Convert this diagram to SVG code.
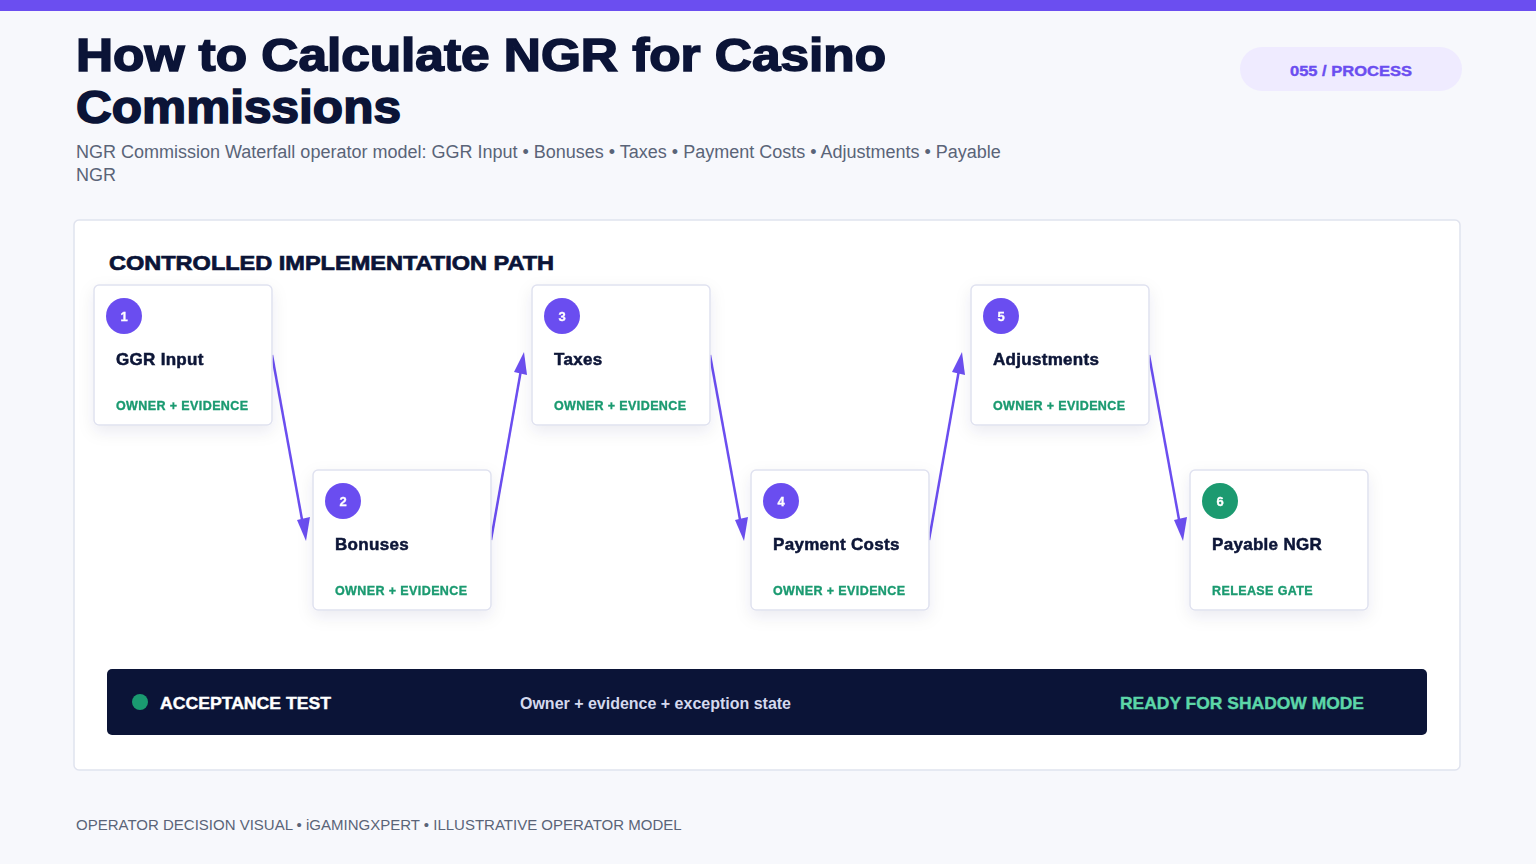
<svg xmlns="http://www.w3.org/2000/svg" width="1536" height="864" viewBox="0 0 1536 864">
<defs>
<style>
.title{font-family:"Liberation Sans",Arial,sans-serif;font-weight:700;font-size:46px;fill:#0B1437;stroke:#0B1437;stroke-width:1.6px}
.sub{font-family:"Liberation Sans",Arial,sans-serif;font-size:18px;fill:#5A6478}
.pill{font-family:"Liberation Sans",Arial,sans-serif;font-weight:700;font-size:15px;fill:#6B4EF0;stroke:#6B4EF0;stroke-width:0.4px}
.sect{font-family:"Liberation Sans",Arial,sans-serif;font-weight:700;font-size:21px;fill:#0B1437;stroke:#0B1437;stroke-width:0.7px}
.card{fill:#FFFFFF;stroke:#E0E2F0;stroke-width:1.5}
.num{font-family:"Liberation Sans",Arial,sans-serif;font-weight:700;font-size:13px;fill:#FFFFFF;stroke:#FFFFFF;stroke-width:0.3px}
.ntitle{font-family:"Liberation Sans",Arial,sans-serif;font-weight:700;font-size:17px;fill:#0B1437;stroke:#0B1437;stroke-width:0.5px;letter-spacing:0.3px}
.tag{font-family:"Liberation Sans",Arial,sans-serif;font-weight:700;font-size:12.5px;fill:#1A9A70;stroke:#1A9A70;stroke-width:0.35px;letter-spacing:0.4px}
.conn{stroke:#6B4EF0;stroke-width:2.5;fill:none}
.bar1{font-family:"Liberation Sans",Arial,sans-serif;font-weight:700;font-size:17px;fill:#FFFFFF;stroke:#FFFFFF;stroke-width:0.4px}
.bar2{font-family:"Liberation Sans",Arial,sans-serif;font-weight:700;font-size:16px;fill:#D4D9EE}
.bar3{font-family:"Liberation Sans",Arial,sans-serif;font-weight:700;font-size:17px;fill:#5CD6A8;stroke:#5CD6A8;stroke-width:0.4px}
.foot{font-family:"Liberation Sans",Arial,sans-serif;font-size:15px;fill:#5A6478}
</style>
<filter id="sh" x="-20%" y="-20%" width="140%" height="150%">
<feDropShadow dx="0" dy="6" stdDeviation="8" flood-color="#1B2150" flood-opacity="0.08"/>
</filter>
</defs>
<rect width="1536" height="864" fill="#F7F8FC"/>
<rect width="1536" height="11" fill="#6B4EF0"/>
<g id="header">
<text class="title" x="76" y="71" textLength="810" lengthAdjust="spacingAndGlyphs">How to Calculate NGR for Casino</text>
<text class="title" x="76" y="123" textLength="325" lengthAdjust="spacingAndGlyphs">Commissions</text>
<text class="sub" x="76" y="158">NGR Commission Waterfall operator model: GGR Input • Bonuses • Taxes • Payment Costs • Adjustments • Payable</text>
<text class="sub" x="76" y="181">NGR</text>
<rect x="1240" y="47" width="222" height="44" rx="22" fill="#EFEBFF"/>
<text class="pill" x="1290" y="76" textLength="122" lengthAdjust="spacingAndGlyphs">055 / PROCESS</text>
</g>
<rect x="74" y="220" width="1386" height="550" rx="5" fill="#FFFFFF" stroke="#E0E3EE" stroke-width="1.5"/>
<text class="sect" x="109" y="270" textLength="445" lengthAdjust="spacingAndGlyphs">CONTROLLED IMPLEMENTATION PATH</text>
<g id="connectors">
<line class="conn" x1="272" y1="355" x2="303" y2="525"/>
<path d="M297,520 L306,541 L310,517 Z" fill="#6B4EF0"/>
<line class="conn" x1="491" y1="540" x2="521" y2="370"/>
<path d="M514,372 L524,352 L527,375 Z" fill="#6B4EF0"/>
<line class="conn" x1="710" y1="355" x2="741" y2="525"/>
<path d="M735,520 L744,541 L748,517 Z" fill="#6B4EF0"/>
<line class="conn" x1="929" y1="540" x2="959" y2="370"/>
<path d="M952,372 L962,352 L965,375 Z" fill="#6B4EF0"/>
<line class="conn" x1="1149" y1="355" x2="1180" y2="525"/>
<path d="M1174,520 L1183,541 L1187,517 Z" fill="#6B4EF0"/>
</g>
<g id="node1" filter="url(#sh)">
<rect class="card" x="94" y="285" width="178" height="140" rx="5"/>
<circle cx="124" cy="316" r="18" fill="#6B4EF0"/>
<text class="num" x="124" y="321" text-anchor="middle">1</text>
<text class="ntitle" x="116" y="365">GGR Input</text>
<text class="tag" x="116" y="410">OWNER + EVIDENCE</text>
</g>
<g id="node2" filter="url(#sh)">
<rect class="card" x="313" y="470" width="178" height="140" rx="5"/>
<circle cx="343" cy="501" r="18" fill="#6B4EF0"/>
<text class="num" x="343" y="506" text-anchor="middle">2</text>
<text class="ntitle" x="335" y="550">Bonuses</text>
<text class="tag" x="335" y="595">OWNER + EVIDENCE</text>
</g>
<g id="node3" filter="url(#sh)">
<rect class="card" x="532" y="285" width="178" height="140" rx="5"/>
<circle cx="562" cy="316" r="18" fill="#6B4EF0"/>
<text class="num" x="562" y="321" text-anchor="middle">3</text>
<text class="ntitle" x="554" y="365">Taxes</text>
<text class="tag" x="554" y="410">OWNER + EVIDENCE</text>
</g>
<g id="node4" filter="url(#sh)">
<rect class="card" x="751" y="470" width="178" height="140" rx="5"/>
<circle cx="781" cy="501" r="18" fill="#6B4EF0"/>
<text class="num" x="781" y="506" text-anchor="middle">4</text>
<text class="ntitle" x="773" y="550">Payment Costs</text>
<text class="tag" x="773" y="595">OWNER + EVIDENCE</text>
</g>
<g id="node5" filter="url(#sh)">
<rect class="card" x="971" y="285" width="178" height="140" rx="5"/>
<circle cx="1001" cy="316" r="18" fill="#6B4EF0"/>
<text class="num" x="1001" y="321" text-anchor="middle">5</text>
<text class="ntitle" x="993" y="365">Adjustments</text>
<text class="tag" x="993" y="410">OWNER + EVIDENCE</text>
</g>
<g id="node6" filter="url(#sh)">
<rect class="card" x="1190" y="470" width="178" height="140" rx="5"/>
<circle cx="1220" cy="501" r="18" fill="#1A9A70"/>
<text class="num" x="1220" y="506" text-anchor="middle">6</text>
<text class="ntitle" x="1212" y="550">Payable NGR</text>
<text class="tag" x="1212" y="595">RELEASE GATE</text>
</g>
<g id="acceptance">
<rect x="107" y="669" width="1320" height="66" rx="5" fill="#0B1437"/>
<circle cx="140" cy="702" r="8" fill="#1A9A70"/>
<text class="bar1" x="160" y="709" textLength="171" lengthAdjust="spacingAndGlyphs">ACCEPTANCE TEST</text>
<text class="bar2" x="520" y="709" textLength="271" lengthAdjust="spacingAndGlyphs">Owner + evidence + exception state</text>
<text class="bar3" x="1120" y="709" textLength="244" lengthAdjust="spacingAndGlyphs">READY FOR SHADOW MODE</text>
</g>
<text class="foot" x="76" y="830">OPERATOR DECISION VISUAL • iGAMINGXPERT • ILLUSTRATIVE OPERATOR MODEL</text>
</svg>
